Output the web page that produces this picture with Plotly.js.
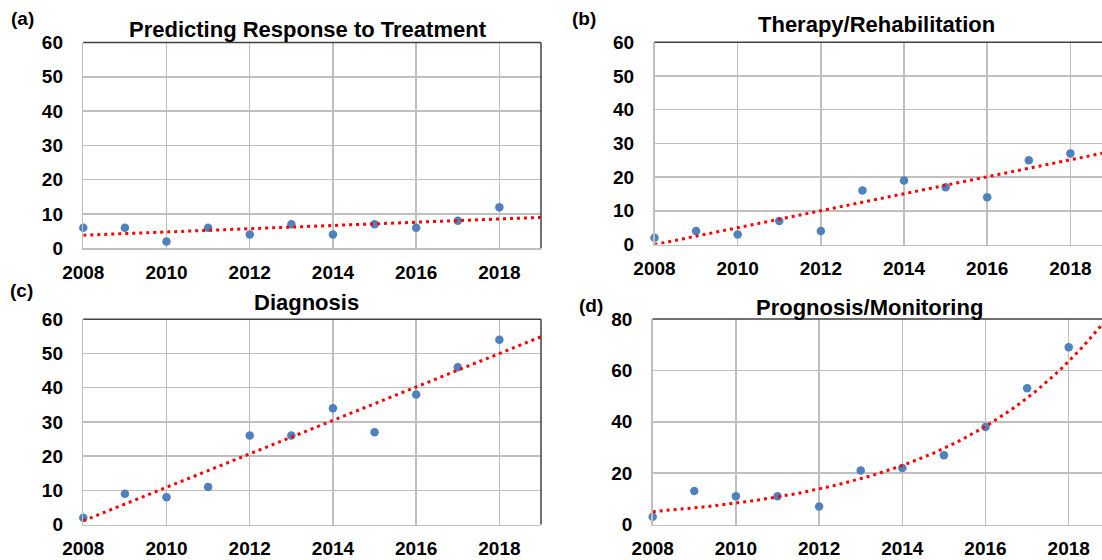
<!DOCTYPE html>
<html>
<head>
<meta charset="utf-8">
<script src="https://cdn.plot.ly/plotly-3.0.1.min.js"></script>
<style>
  html, body { margin: 0; padding: 0; background: #fff; }
  #chart { width: 1102px; height: 560px; }
</style>
</head>
<body>
<div id="chart"></div>
<script>
// ---- data ----
const years = [2008, 2009, 2010, 2011, 2012, 2013, 2014, 2015, 2016, 2017, 2018];
const treatment = [6, 6, 2, 6, 4, 7, 4, 7, 6, 8, 12];
const therapy = [2, 4, 3, 7, 4, 16, 19, 17, 14, 25, 27];
const diagnosis = [2, 9, 8, 11, 26, 26, 34, 27, 38, 46, 54];
const prognosis = [3, 13, 11, 11, 7, 21, 22, 27, 38, 53, 69];

const titles = ["Predicting Response to Treatment", "Therapy/Rehabilitation", "Diagnosis", "Prognosis/Monitoring"];
const panelLabels = ["(a)", "(b)", "(c)", "(d)"];
const xTickVals = [2008, 2010, 2012, 2014, 2016, 2018];
const yTicks60 = [0, 10, 20, 30, 40, 50, 60];
const yTicks80 = [0, 20, 40, 60, 80];

// ---- trend fits (least squares, as the spreadsheet trendlines) ----
function linFit(xs, ys) {
  const n = xs.length;
  const mx = xs.reduce((a, b) => a + b, 0) / n;
  const my = ys.reduce((a, b) => a + b, 0) / n;
  let sxy = 0, sxx = 0;
  for (let i = 0; i < n; i++) { sxy += (xs[i] - mx) * (ys[i] - my); sxx += (xs[i] - mx) ** 2; }
  const b = sxy / sxx;
  return { a: my - b * mx, b: b };
}
function trendLinear(xs, ys, x0, x1) {
  const f = linFit(xs, ys);
  return { x: [x0, x1], y: [f.a + f.b * x0, f.a + f.b * x1] };
}
function trendExp(xs, ys, x0, x1) {
  const f = linFit(xs, ys.map(v => Math.log(v)));
  const tx = [], ty = [];
  const steps = 120;
  for (let i = 0; i <= steps; i++) {
    const x = x0 + (x1 - x0) * i / steps;
    tx.push(x); ty.push(Math.exp(f.a + f.b * x));
  }
  return { x: tx, y: ty };
}

// ---- layout geometry (pixels) ----
const W = 1102, H = 560;
const fx = p => p / W;
const fy = p => 1 - p / H;
const boxes = [
  { l: 83.3, r: 541, t: 42.5, b: 248.3, xr: [2008, 2019], yr: [0, 60], yt: yTicks60 },
  { l: 654.5, r: 1102, t: 42.3, b: 244.5, xr: [2008, 2018.76], yr: [0, 60], yt: yTicks60 },
  { l: 83.3, r: 541, t: 319.3, b: 524.5, xr: [2008, 2019], yr: [0, 60], yt: yTicks60 },
  { l: 652.7, r: 1102, t: 319, b: 524.5, xr: [2008, 2018.8], yr: [0, 80], yt: yTicks80 }
];
const titlePos = [[308.3, 29.5], [876, 24.3], [306, 302.5], [869.5, 307.2]];
const labelPos = [[22, 19], [584, 18], [21, 290], [590.5, 306]];

const fontFam = '"Liberation Sans", Arial, sans-serif';
const tickFont = { family: fontFam, size: 19, color: '#000', weight: 'bold' };
const gridColor = '#bfbfbf';
const borderColor = '#404040';

const seriesList = [treatment, therapy, diagnosis, prognosis];
const traces = [];
const layout = {
  width: W, height: H,
  margin: { l: 0, r: 0, t: 0, b: 0, pad: 0 },
  paper_bgcolor: '#fff', plot_bgcolor: '#fff',
  showlegend: false,
  font: { family: fontFam },
  shapes: [], annotations: []
};

boxes.forEach((bx, i) => {
  const n = i === 0 ? '' : String(i + 1);
  const xa = 'x' + n, ya = 'y' + n;
  layout['xaxis' + n] = {
    domain: [fx(bx.l), fx(bx.r)], anchor: ya, range: bx.xr,
    tickvals: xTickVals, ticks: '', ticklabelstandoff: 6,
    tickfont: tickFont, showgrid: true, gridcolor: gridColor, gridwidth: 1.5,
    zeroline: false, showline: true, linecolor: gridColor, linewidth: 1.5, fixedrange: true
  };
  layout['yaxis' + n] = {
    domain: [fy(bx.b), fy(bx.t)], anchor: xa, range: bx.yr,
    tickvals: bx.yt, ticks: '', ticklabelstandoff: 15,
    tickfont: tickFont, showgrid: true, gridcolor: gridColor, gridwidth: 1.5,
    zeroline: false, showline: true, linecolor: gridColor, linewidth: 1.5, fixedrange: true
  };
  // dark top border
  layout.shapes.push({ type: 'line', xref: xa + ' domain', yref: ya + ' domain', x0: 0, x1: 1, y0: 1, y1: 1,
    line: { color: borderColor, width: 1.5 } });
  // dark right border for left panels
  if (i === 0 || i === 2) {
    layout.shapes.push({ type: 'line', xref: xa + ' domain', yref: ya + ' domain', x0: 1, x1: 1, y0: 0, y1: 1,
      line: { color: borderColor, width: 1.5 } });
  }
  const vals = seriesList[i];
  traces.push({
    type: 'scatter', mode: 'markers', x: years, y: vals, xaxis: xa, yaxis: ya,
    marker: { color: '#4f81bd', size: 8.5 }, cliponaxis: false, hoverinfo: 'x+y'
  });
  const tr = i === 3 ? trendExp(years, vals, 2008, 2019) : trendLinear(years, vals, 2008, 2019);
  traces.push({
    type: 'scatter', mode: 'lines', x: tr.x, y: tr.y, xaxis: xa, yaxis: ya,
    line: { color: '#ff0000', width: 3, dash: '3px,4px' }, hoverinfo: 'skip'
  });
  layout.annotations.push({
    xref: 'paper', yref: 'paper', x: fx(titlePos[i][0]), y: fy(titlePos[i][1]),
    xanchor: 'center', yanchor: 'middle', showarrow: false, text: titles[i],
    font: { family: fontFam, size: 22, color: '#000', weight: 'bold' }
  });
  layout.annotations.push({
    xref: 'paper', yref: 'paper', x: fx(labelPos[i][0]), y: fy(labelPos[i][1]),
    xanchor: 'center', yanchor: 'middle', showarrow: false, text: panelLabels[i],
    font: { family: fontFam, size: 19, color: '#000', weight: 'bold' }
  });
});

Plotly.newPlot('chart', traces, layout, { displayModeBar: false, staticPlot: true });
</script>
</body>
</html>
